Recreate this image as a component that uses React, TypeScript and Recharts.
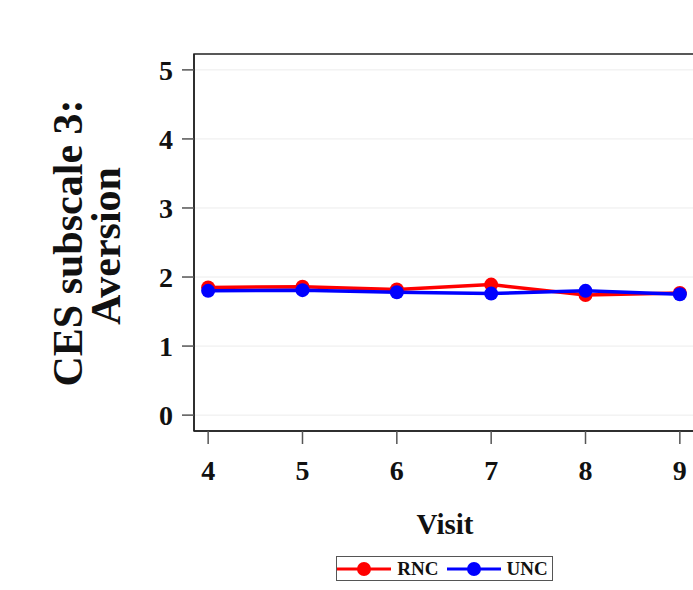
import { LineChart, Line, XAxis, YAxis, CartesianGrid, ReferenceArea } from 'recharts';

const visits = [4, 5, 6, 7, 8, 9];
const rnc = [1.85, 1.86, 1.82, 1.89, 1.74, 1.77];
const unc = [1.8, 1.81, 1.78, 1.76, 1.8, 1.75];
const yTicks = [0, 1, 2, 3, 4, 5];

const data = visits.map((v, i) => ({ visit: v, rnc: rnc[i], unc: unc[i] }));

const serif = '"Liberation Serif", "Times New Roman", serif';
const X_DOMAIN: [number, number] = [3.85, 9.15];
const Y_DOMAIN: [number, number] = [-0.23, 5.23];

function LegendBox() {
  const item = (color: string, name: string) => (
    <span style={{ display: 'inline-flex', alignItems: 'center', marginRight: 6 }}>
      <svg width={58} height={16}>
        <line x1={2} y1={8} x2={56} y2={8} stroke={color} strokeWidth={3} />
        <circle cx={29} cy={8} r={7} fill={color} />
      </svg>
      <span style={{ fontFamily: serif, fontWeight: 'bold', fontSize: 19, color: '#111', marginLeft: 4 }}>{name}</span>
    </span>
  );
  return (
    <div
      style={{
        position: 'absolute',
        left: 336,
        top: 556,
        width: 217,
        height: 25,
        border: '1px solid #555',
        display: 'flex',
        alignItems: 'center',
        justifyContent: 'center',
        boxSizing: 'border-box',
      }}
    >
      {item('#ff0000', 'RNC')}
      {item('#0000ff', 'UNC')}
    </div>
  );
}

export default function App() {
  return (
    <div style={{ position: 'absolute', left: 0, top: 0, width: 693, height: 590, overflow: 'hidden', background: '#fff' }}>
      <LineChart width={720} height={590} data={data} margin={{ top: 54, right: 26, bottom: 119, left: 134 }}>
        <CartesianGrid vertical={false} stroke="#ececec" horizontalValues={yTicks} />
        <XAxis
          dataKey="visit"
          type="number"
          domain={X_DOMAIN}
          ticks={visits}
          height={40}
          tickSize={13}
          axisLine={{ stroke: '#222', strokeWidth: 1.5 }}
          tickLine={{ stroke: '#555', strokeWidth: 1.5 }}
          tick={{ fill: '#111', fontSize: 28, fontWeight: 'bold', fontFamily: serif, dy: 14 }}
          allowDataOverflow
        />
        <YAxis
          type="number"
          domain={Y_DOMAIN}
          ticks={yTicks}
          width={60}
          tickSize={12}
          axisLine={{ stroke: '#222', strokeWidth: 1.5 }}
          tickLine={{ stroke: '#555', strokeWidth: 1.5 }}
          tick={{ fill: '#111', fontSize: 28, fontWeight: 'bold', fontFamily: serif, dx: -7 }}
          allowDataOverflow
        />
        <ReferenceArea
          x1={X_DOMAIN[0]}
          x2={X_DOMAIN[1]}
          y1={Y_DOMAIN[0]}
          y2={Y_DOMAIN[1]}
          fill="none"
          stroke="#222"
          strokeWidth={1.5}
          ifOverflow="visible"
        />
        <Line dataKey="rnc" name="RNC" stroke="#ff0000" strokeWidth={3.5} dot={{ r: 7, fill: '#ff0000', stroke: '#ff0000', strokeWidth: 0 }} isAnimationActive={false} />
        <Line dataKey="unc" name="UNC" stroke="#0000ff" strokeWidth={3.5} dot={{ r: 7, fill: '#0000ff', stroke: '#0000ff', strokeWidth: 0 }} isAnimationActive={false} />
        <text x={445} y={534} textAnchor="middle" fontFamily={serif} fontWeight="bold" fontSize={29} fill="#111">
          Visit
        </text>
        <text transform="translate(82,243) rotate(-90)" textAnchor="middle" fontFamily={serif} fontWeight="bold" fontSize={42} fill="#111">
          CES subscale 3:
        </text>
        <text transform="translate(120,246) rotate(-90)" textAnchor="middle" fontFamily={serif} fontWeight="bold" fontSize={42} fill="#111">
          Aversion
        </text>
      </LineChart>
      <LegendBox />
    </div>
  );
}
